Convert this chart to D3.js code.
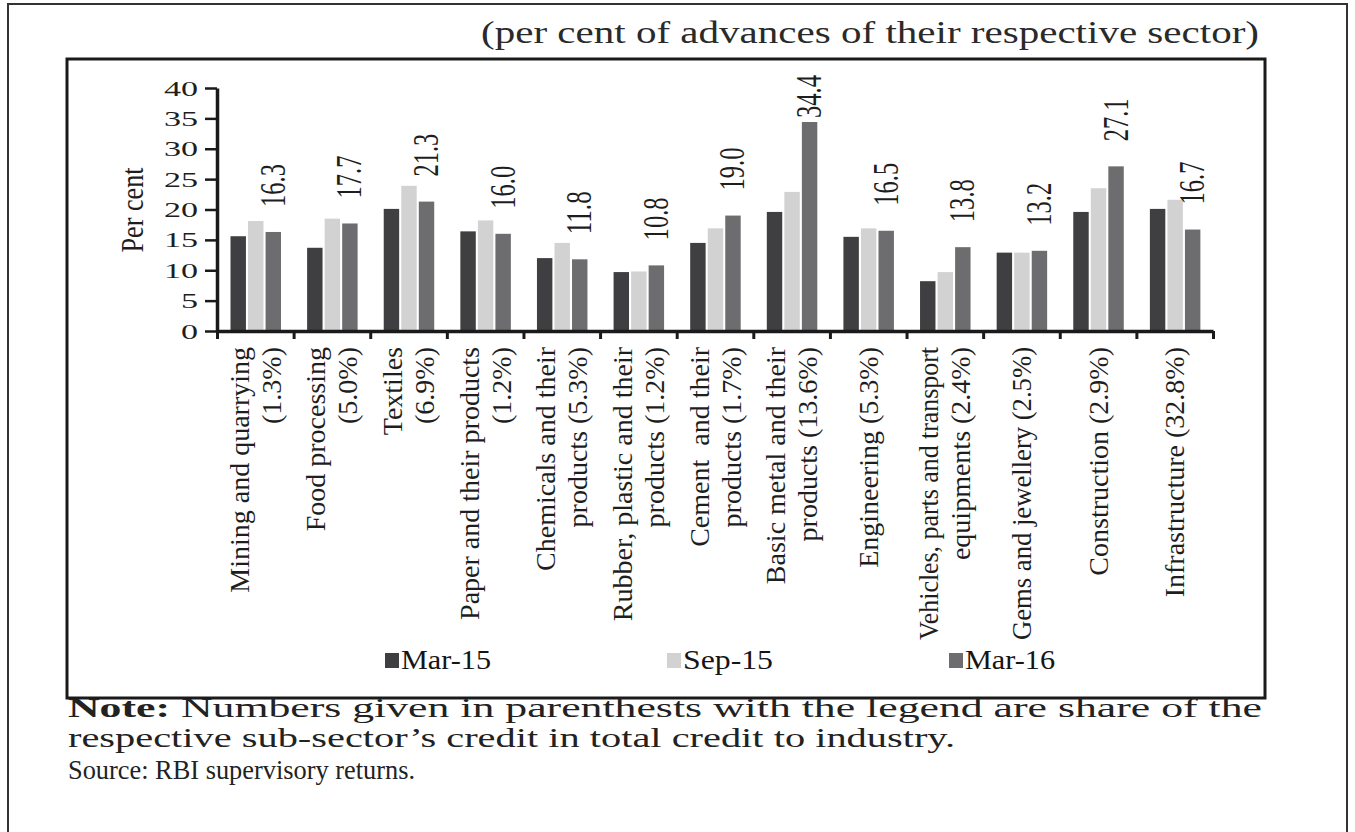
<!DOCTYPE html>
<html><head><meta charset="utf-8">
<script src="https://cdn.jsdelivr.net/npm/d3@7"></script>
<style>body{margin:0;background:#fff} svg{display:block}</style>
</head><body>
<svg id="c" width="1355" height="832"></svg>
<script>
// ---------- data ----------
const categories = [
  "Mining and quarrying\n(1.3%)",
  "Food processing\n(5.0%)",
  "Textiles\n(6.9%)",
  "Paper and their products\n(1.2%)",
  "Chemicals and their\nproducts (5.3%)",
  "Rubber, plastic and their\nproducts (1.2%)",
  "Cement  and their\nproducts (1.7%)",
  "Basic metal and their\nproducts (13.6%)",
  "Engineering (5.3%)",
  "Vehicles, parts and transport\nequipments (2.4%)",
  "Gems and jewellery (2.5%)",
  "Construction (2.9%)",
  "Infrastructure (32.8%)"
];
const seriesNames = ["Mar-15", "Sep-15", "Mar-16"];
const mar15 = [15.6, 13.7, 20.1, 16.4, 12.0, 9.7, 14.5, 19.6, 15.5, 8.2, 12.9, 19.6, 20.1];
const sep15 = [18.1, 18.5, 23.9, 18.2, 14.5, 9.8, 16.9, 22.9, 16.9, 9.7, 12.9, 23.5, 21.6];
const mar16 = [16.3, 17.7, 21.3, 16.0, 11.8, 10.8, 19.0, 34.4, 16.5, 13.8, 13.2, 27.1, 16.7];
const yTicks = [0, 5, 10, 15, 20, 25, 30, 35, 40];
const titleText = "(per cent of advances of their respective sector)";
const yTitle = "Per cent";
const noteBold = "Note:";
const noteLines = [
  " Numbers given in parenthests with the legend are share of the",
  "respective sub-sector\u2019s credit in total credit to industry.",
  "Source: RBI supervisory returns."
];

// ---------- layout / style ----------
const colors = {"Mar-15": "#3f3f41", "Sep-15": "#d2d2d2", "Mar-16": "#6d6d6f"};
const values = {"Mar-15": mar15, "Sep-15": sep15, "Mar-16": mar16};
const serif = "'Liberation Serif','Times New Roman',serif";
const ink = "#1e1e1e";
const svg = d3.select("#c");

// outer frame
svg.append("path").attr("d", "M8,840 V4 H1347 V840")
  .attr("fill", "none").attr("stroke", "#333").attr("stroke-width", 2);
// inner chart frame
svg.append("rect").attr("x", 67).attr("y", 59).attr("width", 1198).attr("height", 639)
  .attr("fill", "none").attr("stroke", "#1a1a1a").attr("stroke-width", 3);

// title
svg.append("text").attr("x", 481).attr("y", 43)
  .attr("font-family", serif).attr("font-size", 32).attr("fill", "#2a2a2a")
  .attr("textLength", 778).attr("lengthAdjust", "spacingAndGlyphs")
  .text(titleText);

// scales
const n = categories.length;
const x0 = 217, x1 = 1213, yBase = 331, yTop = 88;
const x = d3.scaleBand().domain(d3.range(n)).range([x0, x1]).padding(0);
const xs = d3.scaleBand().domain(seriesNames).range([13.5, 64]).paddingInner(0.12);
const y = d3.scaleLinear().domain([0, 40]).range([yBase, yTop]);
const xb = d3.scaleLinear().domain([0, n]).range([x0, x1]);

// bars
const groups = svg.append("g").selectAll("g").data(d3.range(n)).join("g")
  .attr("transform", i => `translate(${x(i)},0)`);
groups.selectAll("rect").data(i => seriesNames.map(s => ({s, v: values[s][i]}))).join("rect")
  .attr("x", d => xs(d.s)).attr("width", xs.bandwidth())
  .attr("y", d => y(d.v)).attr("height", d => y(0) - y(d.v))
  .attr("fill", d => colors[d.s]);

// y axis
const yAxis = svg.append("g").attr("transform", `translate(${x0},0)`)
  .call(d3.axisLeft(y).tickValues(yTicks).tickSize(12).tickSizeOuter(0).tickPadding(7).tickFormat(d3.format("d")));
yAxis.select(".domain").attr("stroke", "#1a1a1a").attr("stroke-width", 3.5);
yAxis.selectAll(".tick line").attr("stroke", "#1a1a1a").attr("stroke-width", 2.5);
yAxis.selectAll(".tick text").attr("font-family", serif).attr("font-size", 22).attr("fill", ink)
  .each(function () {
    const w = this.getComputedTextLength();
    d3.select(this).attr("textLength", w * 1.55).attr("lengthAdjust", "spacingAndGlyphs");
  });

// x axis (category boundaries)
const xAxis = svg.append("g").attr("transform", `translate(0,${yBase})`)
  .call(d3.axisBottom(xb).tickValues(d3.range(n + 1)).tickSize(8).tickSizeOuter(0).tickFormat(""));
xAxis.select(".domain").attr("stroke", "#1a1a1a").attr("stroke-width", 3.5);
xAxis.selectAll(".tick line").attr("stroke", "#1a1a1a").attr("stroke-width", 3);

// y title
svg.append("text").attr("transform", "translate(132,210) rotate(-90)")
  .attr("text-anchor", "middle").attr("dominant-baseline", "central")
  .attr("font-family", serif).attr("font-size", 31).attr("fill", ink)
  .attr("textLength", 85).attr("lengthAdjust", "spacingAndGlyphs")
  .text(yTitle);

// category labels
const lineGap = 32;
const labelTop = 347, maxLabelLen = 293;
categories.forEach((c, i) => {
  const lines = c.split("\n");
  const cx = x(i) + x.bandwidth() / 2;
  lines.forEach((t, j) => {
    const lx = cx + (j - (lines.length - 1) / 2) * lineGap;
    const tt = svg.append("text").attr("transform", `translate(${lx},${labelTop}) rotate(-90)`)
      .attr("text-anchor", "end").attr("dominant-baseline", "central")
      .attr("font-family", serif).attr("font-size", 28).attr("fill", ink)
      .attr("xml:space", "preserve")
      .text(t);
    const w = tt.node().getComputedTextLength();
    if (w > maxLabelLen) tt.attr("textLength", maxLabelLen).attr("lengthAdjust", "spacingAndGlyphs");
  });
});

// value labels for Mar-16
const frameTop = 59;
mar16.forEach((v, i) => {
  const cx = x(i) + xs("Mar-16") + xs.bandwidth() / 2;
  const t = svg.append("text")
    .attr("text-anchor", "start").attr("dominant-baseline", "central")
    .attr("font-family", serif).attr("font-size", 35).attr("fill", ink)
    .text(d3.format(".1f")(v));
  const len = 43;
  t.attr("textLength", len).attr("lengthAdjust", "spacingAndGlyphs");
  const bottom = Math.max(y(v) - 25, frameTop + 16 + len);
  t.attr("transform", `translate(${cx},${bottom}) rotate(-90)`);
});

// legend
const legendX = [385, 667, 949];
const lg = svg.append("g").selectAll("g").data(seriesNames).join("g")
  .attr("transform", (d, i) => `translate(${legendX[i]},660)`);
lg.append("rect").attr("x", 0).attr("y", -7).attr("width", 14).attr("height", 15).attr("fill", d => colors[d]);
lg.append("text").attr("x", 16).attr("y", 9)
  .attr("font-family", serif).attr("font-size", 27).attr("fill", "#151515")
  .attr("textLength", 90).attr("lengthAdjust", "spacingAndGlyphs")
  .text(d => d);

// note
const noteLens = [1194, 887, 347];
const noteY = [717, 747, 779];
noteLines.forEach((t, k) => {
  const tx = svg.append("text").attr("x", 68).attr("y", noteY[k])
    .attr("font-family", serif).attr("font-size", 28).attr("fill", "#222")
    .attr("textLength", noteLens[k]).attr("lengthAdjust", "spacingAndGlyphs")
    .attr("xml:space", "preserve");
  if (k === 0) {
    tx.append("tspan").attr("font-weight", "bold").text(noteBold);
    tx.append("tspan").text(t);
  } else {
    tx.text(t);
  }
});
</script>
</body></html>
